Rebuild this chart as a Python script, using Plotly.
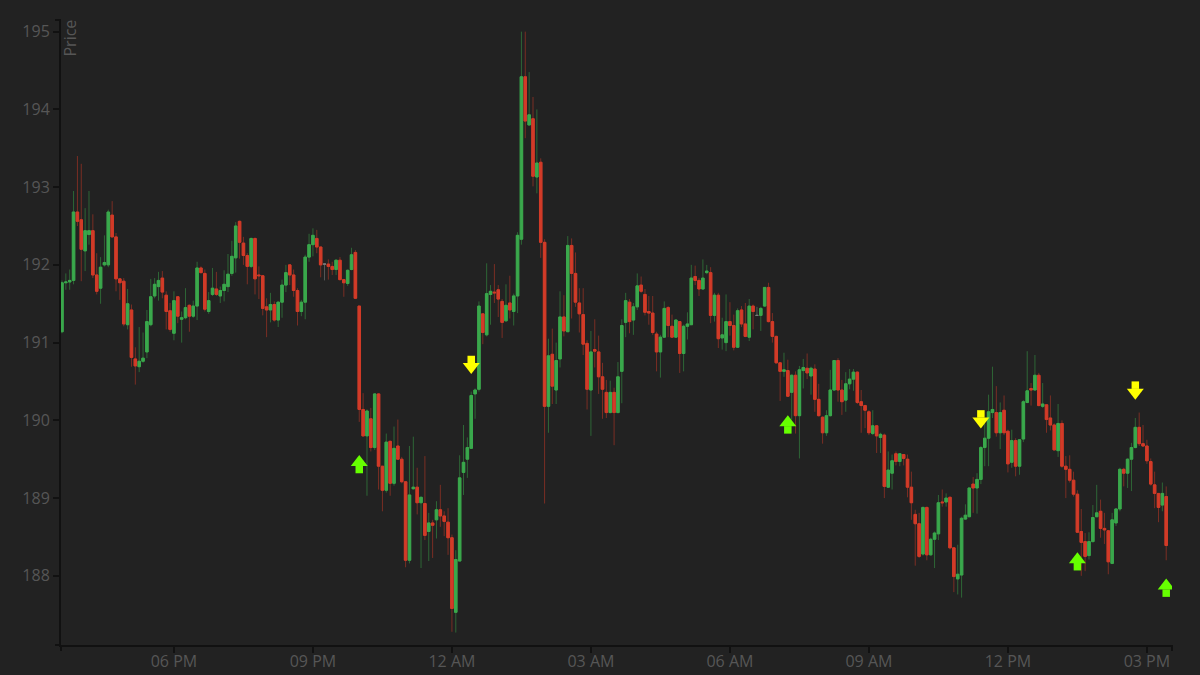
import numpy as np
import pandas as pd
import plotly.graph_objects as go

# ---- data (5-minute candles) ----
start_time = "2024-03-04 15:35"
n_candles = 287

open_ = [
191.14,191.77,191.78,191.80,192.68,192.58,192.18,192.39,192.44,191.87,
191.70,192.00,192.00,192.64,192.36,191.82,191.79,191.23,191.42,190.79,
190.69,190.76,190.88,191.23,191.60,191.72,191.83,191.61,191.41,191.12,
191.59,191.30,191.32,191.48,191.34,191.47,191.96,191.89,191.40,191.62,
191.69,191.60,191.67,191.72,191.89,192.09,192.56,192.28,192.12,191.98,
192.34,191.87,191.86,191.46,191.42,191.49,191.29,191.52,191.74,192.00,
191.87,191.67,191.40,191.52,192.10,192.26,192.34,192.23,192.01,192.01,
191.98,191.94,192.06,191.81,191.76,191.94,192.16,191.47,190.14,189.80,
190.02,189.65,190.34,189.41,189.10,189.73,189.19,189.67,189.50,189.21,
188.20,189.12,189.14,188.94,188.93,188.57,188.68,188.72,188.85,188.77,
188.69,188.49,187.53,188.19,189.33,189.50,189.64,190.34,190.40,191.37,
191.10,191.62,191.65,191.68,191.53,191.28,191.51,191.40,191.60,192.33,
194.42,193.80,193.88,193.13,193.32,192.29,190.18,190.85,190.39,190.79,
191.33,191.14,192.25,191.89,191.51,191.36,190.99,190.39,190.91,190.88,
190.56,190.36,190.10,190.36,190.10,190.63,191.26,191.52,191.29,191.46,
191.74,191.62,191.40,191.38,191.11,190.88,191.07,191.45,191.21,191.07,
191.27,190.86,191.21,191.23,191.85,191.80,191.69,191.90,191.90,191.35,
191.61,191.06,191.00,191.27,191.22,190.94,191.42,191.24,191.07,191.47,
191.35,191.35,191.47,191.71,191.27,191.08,190.74,190.63,190.64,190.36,
190.58,190.06,190.64,190.67,190.57,190.66,190.27,190.04,189.84,190.06,
190.39,190.77,190.39,190.26,190.47,190.53,190.62,190.24,190.19,190.11,
189.83,189.93,189.78,189.81,189.14,189.32,189.57,189.47,189.56,189.50,
189.14,188.79,188.67,188.28,188.88,188.27,188.47,188.54,188.95,188.95,
189.01,188.36,187.96,188.01,188.73,188.76,189.18,189.13,189.24,189.65,
189.77,190.10,190.10,189.84,190.13,189.86,189.46,189.74,189.41,189.76,
190.23,190.41,190.39,190.58,190.18,190.20,190.03,189.94,189.61,189.96,
189.41,189.37,189.23,189.05,188.57,188.44,188.26,188.44,188.76,188.83,
188.61,188.58,188.16,188.68,188.86,189.37,189.32,189.50,189.65,189.91,
189.70,189.67,189.47,189.17,189.06,188.91,189.02,
]

high = [
191.80,191.89,191.94,192.95,193.40,193.30,192.73,192.95,192.65,192.15,
192.10,192.38,192.71,192.82,192.41,191.83,191.83,191.69,191.49,190.94,
191.20,191.13,191.42,191.82,191.83,191.91,191.92,191.66,191.51,191.66,
191.60,191.40,191.70,191.49,191.54,192.04,191.98,191.94,191.65,191.96,
191.91,191.72,191.93,192.14,192.31,192.55,192.57,192.36,192.15,192.35,
192.35,191.98,191.87,191.57,191.64,191.53,191.53,191.81,192.00,192.00,
191.94,191.70,191.55,192.13,192.40,192.47,192.45,192.23,192.02,192.07,
192.04,192.07,192.10,191.82,191.94,192.22,192.19,191.47,190.35,190.14,
190.16,190.35,190.35,189.41,189.83,189.74,189.92,190.01,189.53,189.21,
189.67,189.79,189.39,189.02,189.54,188.81,188.72,188.96,189.17,188.83,
188.87,188.53,188.33,189.55,189.94,189.78,190.37,190.41,191.53,191.37,
192.02,191.74,192.01,191.74,191.56,191.75,191.86,191.63,192.42,195.00,
195.00,194.48,194.16,194.00,193.37,192.33,191.05,191.18,191.00,191.66,
191.61,192.37,192.34,192.16,191.70,191.70,191.03,191.15,191.30,191.09,
190.74,190.52,190.51,190.42,190.75,191.30,191.64,191.56,191.51,191.89,
191.85,191.69,191.60,191.60,191.14,191.10,191.53,191.47,191.36,191.30,
191.27,191.23,191.39,192.00,191.99,191.83,192.07,192.00,191.97,191.64,
191.64,191.32,191.62,191.52,191.36,191.44,191.47,191.51,191.56,191.49,
191.46,191.46,191.71,191.77,191.38,191.09,190.74,190.87,190.78,190.59,
190.63,190.70,190.79,190.86,190.69,190.72,190.47,190.05,190.13,190.65,
190.77,190.80,190.52,190.62,190.66,190.66,190.63,190.39,190.20,190.13,
190.13,189.94,189.84,189.83,189.60,189.56,189.60,189.58,189.56,189.56,
189.34,188.85,188.81,188.89,188.89,188.49,188.57,189.04,189.11,189.06,
189.02,188.37,188.40,188.76,188.92,189.13,189.27,189.32,189.67,189.96,
190.33,190.69,190.44,190.23,190.32,189.88,189.88,189.77,189.76,190.26,
190.89,190.48,190.84,190.61,190.48,190.21,190.32,189.96,190.21,190.00,
189.54,189.55,189.34,189.10,188.86,188.55,188.56,188.91,189.17,188.98,
188.81,188.59,188.81,188.87,189.39,189.39,189.51,189.71,190.03,190.10,
189.94,189.75,189.51,189.34,189.06,189.20,189.15,
]

low = [
191.12,191.68,191.68,191.75,192.50,191.79,191.92,192.26,191.83,191.62,
191.50,191.98,191.97,192.35,191.66,191.55,191.21,191.17,190.69,190.46,
190.62,190.74,190.80,191.21,191.57,191.54,191.57,191.17,191.14,191.03,
191.25,191.00,191.30,191.14,191.32,191.29,191.89,191.40,191.37,191.60,
191.60,191.51,191.53,191.65,191.86,191.90,192.08,192.00,191.75,191.96,
191.62,191.56,191.35,191.07,191.26,191.27,191.20,191.32,191.65,191.74,
191.59,191.22,191.34,191.30,192.04,192.11,192.15,191.84,191.80,191.81,
191.87,191.87,191.80,191.59,191.73,191.93,191.56,189.98,189.79,189.03,
189.60,189.62,189.11,188.83,189.07,189.03,189.16,189.49,189.19,188.11,
188.16,189.11,188.79,188.10,188.46,188.19,188.23,188.48,188.63,188.51,
188.27,187.28,187.27,188.19,189.04,189.26,189.64,190.02,190.37,190.98,
191.08,191.23,191.51,191.33,191.06,191.27,191.31,191.22,191.38,192.26,
193.63,193.79,193.01,192.92,192.09,188.93,189.84,190.21,190.21,190.68,
191.08,191.14,191.31,191.46,191.13,190.84,190.14,189.80,190.68,190.34,
190.02,190.03,190.09,189.68,190.09,190.22,191.07,191.12,191.10,191.42,
191.64,191.35,191.23,191.10,190.63,190.55,191.06,191.07,191.06,191.06,
190.61,190.63,191.04,191.23,191.74,191.60,191.68,191.88,191.25,191.27,
190.93,190.91,190.89,191.09,190.90,190.93,191.20,191.07,191.02,191.17,
191.35,191.15,191.46,191.26,191.00,190.73,190.25,190.56,190.30,190.01,
189.83,189.51,190.41,190.53,190.33,190.11,190.05,189.70,189.80,190.05,
190.38,190.24,190.07,190.11,190.40,190.38,190.21,189.84,189.90,189.81,
189.81,189.58,189.58,189.00,189.13,189.11,189.42,189.41,189.42,189.01,
188.72,188.13,188.23,188.26,188.20,188.26,188.10,188.46,188.89,188.89,
188.34,187.79,187.76,187.72,188.72,188.76,188.81,188.80,189.18,189.41,
189.41,190.03,189.79,189.63,189.81,189.33,189.39,189.28,189.30,189.72,
190.22,190.19,190.39,190.18,190.16,189.84,189.87,189.61,189.53,189.39,
189.00,189.20,189.02,188.55,188.00,188.06,188.21,188.43,188.76,188.49,
188.41,188.02,188.15,188.64,188.83,189.15,189.13,189.09,189.64,189.67,
189.66,189.44,189.16,188.87,188.69,188.83,188.20,
]

close = [
191.77,191.78,191.80,192.68,192.56,192.20,192.44,192.44,191.87,191.66,
191.97,192.03,192.68,192.36,191.82,191.77,191.24,191.50,190.81,190.70,
190.76,190.80,191.27,191.59,191.75,191.80,191.65,191.40,191.17,191.54,
191.34,191.32,191.45,191.34,191.47,191.96,191.90,191.43,191.54,191.70,
191.62,191.67,191.75,191.88,192.11,192.50,192.29,192.12,191.98,192.34,
191.82,191.86,191.44,191.42,191.49,191.29,191.52,191.74,191.90,191.87,
191.67,191.40,191.52,192.10,192.26,192.38,192.23,192.00,192.01,191.98,
191.94,192.06,191.81,191.77,191.93,192.13,191.57,190.14,189.80,190.12,
189.65,190.34,189.41,189.10,189.72,189.19,189.64,189.50,189.21,188.20,
189.04,189.14,188.94,189.01,188.52,188.68,188.65,188.85,188.77,188.70,
188.49,187.58,188.21,189.26,189.46,189.65,190.32,190.39,191.47,191.13,
191.63,191.66,191.64,191.56,191.26,191.48,191.42,191.60,192.38,194.42,
193.85,193.93,193.14,193.31,192.29,190.18,190.83,190.44,190.77,191.33,
191.15,192.25,191.89,191.52,191.37,190.98,190.40,190.88,190.89,190.56,
190.40,190.10,190.36,190.10,190.56,191.22,191.54,191.27,191.46,191.73,
191.66,191.39,191.38,191.13,190.88,191.07,191.44,191.22,191.07,191.29,
190.86,191.21,191.24,191.83,191.80,191.69,191.83,191.92,191.35,191.61,
191.05,191.10,191.27,191.22,190.94,191.41,191.24,191.08,191.47,191.40,
191.35,191.44,191.71,191.27,191.08,190.74,190.63,190.65,190.31,190.58,
190.06,190.65,190.68,190.61,190.67,190.27,190.06,189.84,190.06,190.39,
190.77,190.39,190.24,190.47,190.53,190.62,190.23,190.19,190.13,189.84,
189.93,189.80,189.82,189.15,189.36,189.48,189.47,189.57,189.51,189.14,
188.94,188.67,188.25,188.88,188.27,188.47,188.55,188.94,188.94,189.00,
188.36,187.99,188.02,188.74,188.78,189.13,189.13,189.24,189.65,189.77,
190.11,190.14,189.84,190.10,189.84,189.44,189.74,189.41,189.75,190.24,
190.38,190.39,190.58,190.19,190.21,190.01,189.94,189.62,189.96,189.41,
189.37,189.23,189.05,188.56,188.43,188.25,188.44,188.75,188.81,188.61,
188.59,188.18,188.72,188.86,189.37,189.32,189.50,189.65,189.91,189.70,
189.67,189.48,189.18,189.06,188.88,189.06,188.39,
]

# trading signals: candle index and marker (arrow head) price
buy_idx = [77, 188, 263, 286]
buy_price = [189.46, 189.97, 188.21, 187.87]
sell_idx = [106, 238, 278]
sell_price = [190.69, 189.99, 190.36]

y_range = [187.11, 195.15]
tick_labels_fmt = "%I %p"

# ---- build ----
times = pd.date_range(start_time, periods=n_candles, freq="5min")
o = np.array(open_); h = np.array(high); l = np.array(low); c = np.array(close)
h = np.maximum(h, np.maximum(o, c))
l = np.minimum(l, np.minimum(o, c))
body_hi = np.maximum(o, c)
body_lo = np.minimum(o, c)

BG = "#222222"
GREEN = "#3aa84c"
RED = "#d23b28"
GREEN_W = "#2e6636"
RED_W = "#7a2e24"
GRAY = "#7a7a7a"
AXIS = "#111111"
TXT = "#565656"
BUY_C = "#66ff00"
SELL_C = "#ffff00"

groups = [
    (c > o, GREEN, GREEN_W),
    (c < o, RED, RED_W),
    (c == o, GRAY, "#555555"),
]

fig = go.Figure()
# wicks (dim)
for mask, col, wcol in groups:
    if not mask.any():
        continue
    fig.add_trace(go.Candlestick(
        x=times[mask], open=o[mask], high=h[mask], low=l[mask], close=c[mask],
        increasing=dict(line=dict(color=wcol, width=1), fillcolor=wcol),
        decreasing=dict(line=dict(color=wcol, width=1), fillcolor=wcol),
        showlegend=False, hoverinfo="skip",
    ))
# bodies (bright)
for mask, col, wcol in groups:
    if not mask.any():
        continue
    fig.add_trace(go.Candlestick(
        x=times[mask], open=o[mask], high=body_hi[mask], low=body_lo[mask], close=c[mask],
        increasing=dict(line=dict(color=col, width=1), fillcolor=col),
        decreasing=dict(line=dict(color=col, width=1), fillcolor=col),
        showlegend=False, hoverinfo="skip",
    ))

# signal arrows: triangle head at the signal price, square stem just behind it
px_per_unit = 625.0 / (y_range[1] - y_range[0])
stem_off = 7.2 / px_per_unit
bx = times[buy_idx]; sx = times[sell_idx]
bp = np.array(buy_price); sp = np.array(sell_price)
fig.add_trace(go.Scatter(x=bx, y=bp - stem_off, mode="markers",
                         marker=dict(symbol="square", size=7.5, color=BUY_C, line=dict(width=0)),
                         showlegend=False, hoverinfo="skip"))
fig.add_trace(go.Scatter(x=bx, y=bp, mode="markers",
                         marker=dict(symbol="triangle-up", size=14.7, color=BUY_C, line=dict(width=0)),
                         showlegend=False, hoverinfo="skip"))
fig.add_trace(go.Scatter(x=sx, y=sp + stem_off, mode="markers",
                         marker=dict(symbol="square", size=7.5, color=SELL_C, line=dict(width=0)),
                         showlegend=False, hoverinfo="skip"))
fig.add_trace(go.Scatter(x=sx, y=sp, mode="markers",
                         marker=dict(symbol="triangle-down", size=14.7, color=SELL_C, line=dict(width=0)),
                         showlegend=False, hoverinfo="skip"))

x0 = times[0] - pd.Timedelta(seconds=75)
x1 = times[-1] + pd.Timedelta(minutes=7.5)

pw, ph = 1111.0, 625.0
ot = 6
shapes = [
    dict(type="line", xref="paper", yref="paper", x0=-ot / pw, x1=0, y0=1, y1=1,
         line=dict(color=AXIS, width=2)),
    dict(type="line", xref="paper", yref="paper", x0=-ot / pw, x1=0, y0=0, y1=0,
         line=dict(color=AXIS, width=2)),
    dict(type="line", xref="paper", yref="paper", x0=0, x1=0, y0=0, y1=-ot / ph,
         line=dict(color=AXIS, width=2)),
    dict(type="line", xref="paper", yref="paper", x0=1, x1=1, y0=0, y1=-ot / ph,
         line=dict(color=AXIS, width=2)),
]

fig.update_layout(
    width=1200, height=675, autosize=False,
    paper_bgcolor=BG, plot_bgcolor=BG,
    margin=dict(l=61, r=28, t=20, b=30, autoexpand=False),
    font=dict(family="Open Sans", size=16, color=TXT),
    showlegend=False,
    boxmode="overlay", boxgap=0.35, boxgroupgap=0,
    shapes=shapes,
    annotations=[dict(
        text="Price", xref="paper", yref="paper", x=0, y=1, xanchor="left", yanchor="top",
        xshift=-5, yshift=2, textangle=-90, showarrow=False, font=dict(size=16, color=TXT),
    )],
    xaxis=dict(
        type="date", range=[x0, x1], rangeslider=dict(visible=False), automargin=False,
        showgrid=False, zeroline=False, showline=True, linecolor=AXIS, linewidth=2,
        ticks="outside", ticklen=6, tickwidth=2, tickcolor=AXIS,
        tick0="2024-03-04 00:00", dtick=3 * 3600 * 1000, tickformat=tick_labels_fmt,
        tickfont=dict(size=16, color=TXT), ticklabelstandoff=-5,
    ),
    yaxis=dict(
        range=y_range, showgrid=False, zeroline=False, showline=True, automargin=False,
        linecolor=AXIS, linewidth=2, ticks="outside", ticklen=6, tickwidth=2,
        tickcolor=AXIS, dtick=1, tickfont=dict(size=16, color=TXT),
    ),
)

fig.write_html(
    "out.html",
    default_width="1200px", default_height="675px",
    config={"displayModeBar": False},
    post_script="document.body.style.margin='0';document.body.style.background='#222222';",
)
